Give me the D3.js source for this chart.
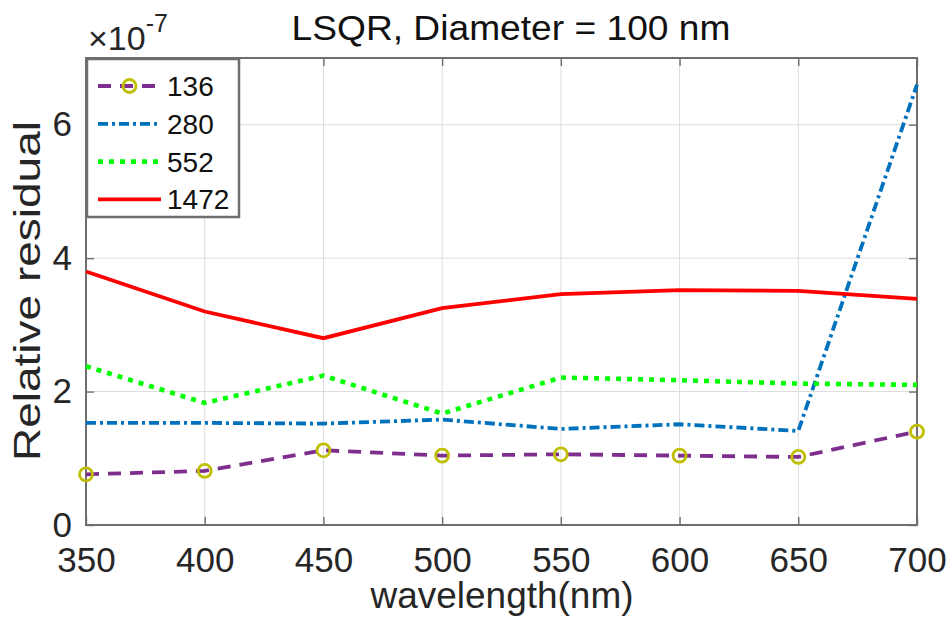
<!DOCTYPE html>
<html><head><meta charset="utf-8">
<script src="https://cdn.jsdelivr.net/npm/d3@7"></script>
<style>body{margin:0;background:#fff}svg{display:block}text{font-family:"Liberation Sans",Arial,sans-serif}</style>
</head><body>
<script>
const wavelengths = [350, 400, 450, 500, 550, 600, 650, 700];
const s136  = [0.76, 0.81, 1.12, 1.04, 1.06, 1.04, 1.02, 1.40];
const s280  = [1.53, 1.53, 1.52, 1.58, 1.44, 1.51, 1.41, 6.60];
const s552  = [2.38, 1.83, 2.24, 1.67, 2.21, 2.17, 2.12, 2.10];
const s1472 = [3.80, 3.20, 2.80, 3.25, 3.46, 3.52, 3.51, 3.39];
const seriesNames = ["136", "280", "552", "1472"];
const yTicks = [0, 2, 4, 6];
const xTicks = [350, 400, 450, 500, 550, 600, 650, 700];

const W = 951, H = 618;
const m = {l: 86, r: 34, t: 58, b: 93};
const svg = d3.select("body").append("svg").attr("width", W).attr("height", H);
const x = d3.scaleLinear().domain([350, 700]).range([m.l, W - m.r]);
const y = d3.scaleLinear().domain([0, 7]).range([H - m.b, m.t]);

// grid
const g = svg.append("g");
g.selectAll(".gx").data(xTicks).join("line")
  .attr("x1", d => x(d)).attr("x2", d => x(d)).attr("y1", y(0)).attr("y2", y(7))
  .attr("stroke", "#dcdcdc").attr("stroke-width", 1);
g.selectAll(".gy").data(yTicks).join("line")
  .attr("y1", d => y(d)).attr("y2", d => y(d)).attr("x1", x(350)).attr("x2", x(700))
  .attr("stroke", "#dcdcdc").attr("stroke-width", 1);

// axes
const axCol = "#6e6e6e";
function styleAxis(sel, showText) {
  sel.select(".domain").remove();
  sel.selectAll(".tick line").attr("stroke", axCol).attr("stroke-width", 1.4);
  sel.selectAll(".tick text").attr("fill", "#262626").style("font-size", "35px");
  if (!showText) sel.selectAll(".tick text").remove();
}
svg.append("g").attr("transform", `translate(0,${y(0)})`)
  .call(d3.axisBottom(x).tickValues(xTicks).tickSize(-8).tickPadding(22).tickFormat(d3.format("d")))
  .call(s => styleAxis(s, true));
svg.append("g").attr("transform", `translate(0,${y(7)})`)
  .call(d3.axisTop(x).tickValues(xTicks).tickSize(-8))
  .call(s => styleAxis(s, false));
svg.append("g").attr("transform", `translate(${x(350)},0)`)
  .call(d3.axisLeft(y).tickValues(yTicks).tickSize(-8).tickPadding(14).tickFormat(d3.format("d")))
  .call(s => styleAxis(s, true));
svg.append("g").attr("transform", `translate(${x(700)},0)`)
  .call(d3.axisRight(y).tickValues(yTicks).tickSize(-8))
  .call(s => styleAxis(s, false));
svg.append("rect").attr("x", x(350)).attr("y", y(7)).attr("width", x(700) - x(350)).attr("height", y(0) - y(7))
  .attr("fill", "none").attr("stroke", axCol).attr("stroke-width", 2);

// lines
const styles = [
  {data: s136, color: "#7E2F8E", dash: "13,9", marker: true, w: 3.8},
  {data: s280, color: "#0072BD", dash: "10,4,3,4", marker: false, w: 3.8},
  {data: s552, color: "#00FF00", dash: "5,6", marker: false, w: 4.6},
  {data: s1472, color: "#FF0000", dash: null, marker: false, w: 3.8}
];
const line = d3.line().x((d, i) => x(wavelengths[i])).y(d => y(d));
const plot = svg.append("g");
styles.forEach(st => {
  plot.append("path").datum(st.data).attr("d", line).attr("fill", "none")
    .attr("stroke", st.color).attr("stroke-width", st.w)
    .attr("stroke-dasharray", st.dash);
});
styles.forEach(st => {
  if (!st.marker) return;
  plot.selectAll(null).data(st.data).join("circle")
    .attr("cx", (d, i) => x(wavelengths[i])).attr("cy", d => y(d)).attr("r", 6.5)
    .attr("fill", "none").attr("stroke", "#BFBF00").attr("stroke-width", 2.8);
});

// legend
const lg = svg.append("g");
lg.append("rect").attr("x", 87).attr("y", 59).attr("width", 152).attr("height", 158)
  .attr("fill", "#fff").attr("stroke", axCol).attr("stroke-width", 2.5);
styles.forEach((st, i) => {
  const ly = 86 + i * 37.8;
  lg.append("line").attr("x1", 98).attr("x2", 161).attr("y1", ly).attr("y2", ly)
    .attr("stroke", st.color).attr("stroke-width", st.w).attr("stroke-dasharray", st.dash);
  if (st.marker) lg.append("circle").attr("cx", 129.5).attr("cy", ly).attr("r", 6.5)
    .attr("fill", "none").attr("stroke", "#BFBF00").attr("stroke-width", 2.8);
  lg.append("text").attr("x", 167).attr("y", ly).attr("dy", "0.36em")
    .style("font-size", "28px").attr("fill", "#111").text(seriesNames[i]);
});

// texts
svg.append("text").attr("x", 511).attr("y", 40).attr("text-anchor", "middle")
  .attr("textLength", 439).attr("lengthAdjust", "spacingAndGlyphs")
  .style("font-size", "35px").attr("fill", "#111").text("LSQR, Diameter = 100 nm");
const ex = svg.append("text").attr("x", 88).attr("y", 50).style("font-size", "34px").attr("fill", "#262626");
ex.append("tspan").text("\u00d710");
ex.append("tspan").attr("dy", -18).style("font-size", "25px").text("-7");
svg.append("text").attr("x", 502).attr("y", 608).attr("text-anchor", "middle")
  .attr("textLength", 263).attr("lengthAdjust", "spacingAndGlyphs")
  .style("font-size", "36px").attr("fill", "#262626").text("wavelength(nm)");
svg.append("text").attr("transform", "translate(40,291) rotate(-90)").attr("text-anchor", "middle")
  .attr("textLength", 340).attr("lengthAdjust", "spacingAndGlyphs")
  .style("font-size", "36px").attr("fill", "#262626").text("Relative residual");
</script>
</body></html>
